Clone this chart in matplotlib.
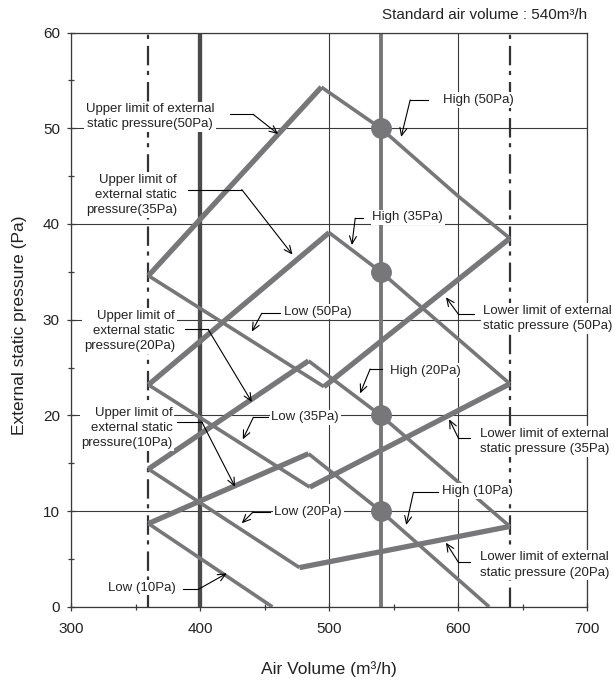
import matplotlib
matplotlib.use('Agg')
import matplotlib.pyplot as plt
from matplotlib.ticker import MultipleLocator

plt.rcParams['font.family'] = ['Liberation Sans', 'DejaVu Sans']
plt.rcParams['lines.scale_dashes'] = False

# ---------------- data ----------------
std_air_volume = 540
std_pressures = [50, 35, 20, 10]
limit_min_air = 360
limit_max_air = 640
fan_ref_air = 400

x_ticks = [300, 400, 500, 600, 700]
y_ticks = [0, 10, 20, 30, 40, 50, 60]

# 50Pa setting
upper50_x = [360, 494];            upper50_y = [34.6, 54.3]
high50_x = [494, 540, 600, 640];   high50_y = [54.3, 50.0, 42.9, 38.5]
lower50_x = [496, 640];            lower50_y = [23.0, 38.5]
low50_x = [360, 496];              low50_y = [34.6, 23.0]
# 35Pa setting
upper35_x = [360, 500];            upper35_y = [23.2, 39.1]
high35_x = [500, 540, 640];        high35_y = [39.1, 35.0, 23.3]
lower35_x = [485, 640];            lower35_y = [12.5, 23.3]
low35_x = [360, 485];              low35_y = [23.2, 12.5]
# 20Pa setting
upper20_x = [360, 484];            upper20_y = [14.4, 25.7]
high20_x = [484, 540, 640];        high20_y = [25.7, 20.0, 8.4]
lower20_x = [477, 640];            lower20_y = [4.1, 8.4]
low20_x = [360, 477];              low20_y = [14.4, 4.1]
# 10Pa setting
upper10_x = [360, 484];            upper10_y = [8.7, 16.0]
high10_x = [484, 540, 624];        high10_y = [16.0, 10.0, 0.0]
low10_x = [360, 456];              low10_y = [8.7, 0.0]

limit_lines = [(upper50_x, upper50_y), (lower50_x, lower50_y),
               (upper35_x, upper35_y), (lower35_x, lower35_y),
               (upper20_x, upper20_y), (lower20_x, lower20_y),
               (upper10_x, upper10_y)]
fan_lines = [(high50_x, high50_y), (low50_x, low50_y),
             (high35_x, high35_y), (low35_x, low35_y),
             (high20_x, high20_y), (low20_x, low20_y),
             (high10_x, high10_y), (low10_x, low10_y)]

# annotations: text, text pos, ha, leader start, corner, arrow tip
annotations = [
    ("Upper limit of external\nstatic pressure(50Pa)", (361.2, 51.2), 'center', (423.3, 51.46), (441.1, 51.46), (460.5, 49.4)),
    ("High (50Pa)", (615.5, 52.96), 'center', (576.7, 52.96), (562.8, 52.96), (555.8, 49.1)),
    ("Upper limit of\nexternal static\npressure(35Pa)", (382.2, 43.0), 'right', (390.5, 43.6), (432.3, 43.6), (471.6, 36.8)),
    ("High (35Pa)", (561.0, 40.7), 'center', (526.6, 40.6), (520.2, 40.6), (517.6, 37.8)),
    ("Upper limit of\nexternal static\npressure(20Pa)", (380.6, 28.8), 'right', (388.4, 29.0), (406.2, 29.0), (440.1, 21.4)),
    ("Low (50Pa)", (491.5, 30.84), 'center', (462.0, 30.67), (447.8, 30.67), (440.1, 28.75)),
    ("Lower limit of external\nstatic pressure (50Pa)", (619.1, 30.15), 'left', (611.9, 30.56), (600.2, 30.56), (590.5, 32.34)),
    ("High (20Pa)", (574.4, 24.67), 'center', (540.9, 24.85), (531.8, 24.85), (524.0, 22.3)),
    ("Upper limit of\nexternal static\npressure(10Pa)", (378.7, 18.65), 'right', (382.4, 19.34), (401.3, 19.34), (427.1, 12.55)),
    ("Low (35Pa)", (481.4, 19.8), 'center', (452.9, 19.8), (441.3, 19.8), (433.1, 17.5)),
    ("Lower limit of external\nstatic pressure (35Pa)", (617.1, 17.25), 'left', (609.3, 17.61), (600.2, 17.61), (593.0, 19.59)),
    ("High (10Pa)", (614.7, 12.1), 'center', (584.7, 11.96), (565.3, 11.96), (559.7, 8.55)),
    ("Low (20Pa)", (483.7, 9.94), 'center', (454.3, 9.94), (441.3, 9.94), (432.3, 8.73)),
    ("Lower limit of external\nstatic pressure (20Pa)", (617.1, 4.37), 'left', (609.3, 4.65), (600.2, 4.65), (590.5, 6.7)),
    ("Low (10Pa)", (355.0, 2.0), 'center', (387.1, 1.83), (398.7, 1.83), (420.7, 3.5)),
]

# ---------------- figure ----------------
fig = plt.figure(figsize=(6.14, 6.8), dpi=100)
ax = fig.add_axes([0.1156, 0.1076, 0.8409, 0.8445])
ax.set_xlim(300, 700)
ax.set_ylim(0, 60)

grid_c = '#3a3a3a'
line_c = '#77777a'

ax.set_xticks(x_ticks)
ax.set_yticks(y_ticks)
ax.xaxis.set_minor_locator(MultipleLocator(50))
ax.yaxis.set_minor_locator(MultipleLocator(5))
ax.tick_params(which='both', direction='inout', color=grid_c, width=0.9)
ax.tick_params(which='major', length=6)
ax.tick_params(which='minor', length=5)
ax.tick_params(axis='x', labelsize=11, pad=8, labelcolor='#222222')
ax.tick_params(axis='y', labelsize=11, pad=5, labelcolor='#222222')
ax.grid(True, which='major', color=grid_c, lw=0.8, zorder=1)
ax.set_axisbelow(True)
for s in ax.spines.values():
    s.set_color(grid_c)
    s.set_linewidth(0.9)

# dash-dot limits
for xv in [limit_min_air, limit_max_air]:
    ax.plot([xv, xv], [0, 60], color='#333333', lw=1.6,
            linestyle=(0, (14, 5, 3, 4)), zorder=2, clip_on=False)

# reference lines
ax.plot([fan_ref_air, fan_ref_air], [0, 60], color='#4a4a4a', lw=3.1, zorder=2.2, solid_capstyle='butt')
ax.plot([std_air_volume, std_air_volume], [0, 60], color=line_c, lw=2.8, zorder=2.2, solid_capstyle='butt')

for xs, ys in limit_lines:
    ax.plot(xs, ys, color=line_c, lw=3.8, zorder=3, solid_joinstyle='miter', solid_capstyle='butt')
for xs, ys in fan_lines:
    ax.plot(xs, ys, color=line_c, lw=2.6, zorder=3, solid_joinstyle='miter', solid_capstyle='butt')

ax.plot([std_air_volume] * len(std_pressures), std_pressures, 'o', color=line_c,
        markersize=14, zorder=4)

for text, tpos, ha, start, corner, tip in annotations:
    ax.text(tpos[0], tpos[1], text, ha=ha, va='center', multialignment=ha,
            fontsize=9.5, linespacing=1.35, color='#222222', zorder=6,
            bbox=dict(facecolor='white', edgecolor='none', pad=1.2), clip_on=False)
    ax.plot([start[0], corner[0]], [start[1], corner[1]], color='black', lw=0.8, zorder=7)
    ax.annotate('', xy=tip, xytext=corner, zorder=7,
                arrowprops=dict(arrowstyle='->,head_length=0.55,head_width=0.25',
                                color='black', lw=0.8, shrinkA=0, shrinkB=0))

ax.set_xlabel('Air Volume (m³/h)', fontsize=12.5, color='#222222')
ax.xaxis.set_label_coords(0.5, -0.094)
ax.set_ylabel('External static pressure (Pa)', fontsize=12.5, color='#222222')
ax.yaxis.set_label_coords(-0.086, 0.49)

fig.text(0.9565, 1 - 15 / 680, 'Standard air volume : 540m³/h', ha='right', va='center',
         fontsize=11, color='#222222')

fig.savefig('out.png', dpi=100)
